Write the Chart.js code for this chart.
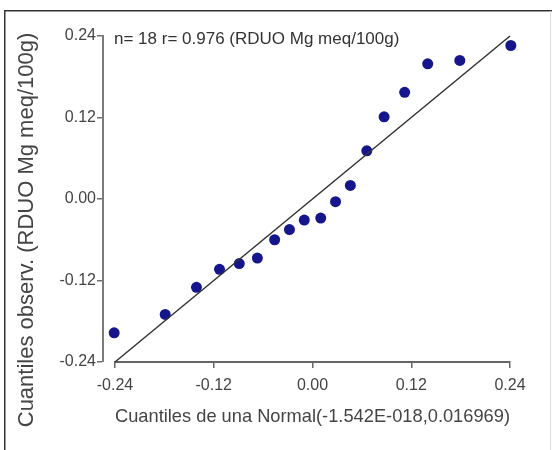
<!DOCTYPE html>
<html>
<head>
<meta charset="utf-8">
<script src="https://cdn.jsdelivr.net/npm/chart.js@4.4.1/dist/chart.umd.min.js"></script>
<style>
  html, body { margin: 0; padding: 0; background: #fff; }
  canvas { display: block; }
</style>
</head>
<body>
<canvas id="qqChart" width="552" height="450"></canvas>
<script>
// Q-Q plot: Cuantiles de una Normal vs cuantiles observados

// datos
const cuantilesNormal = [
  -0.241, -0.179, -0.141, -0.113, -0.089, -0.067, -0.046, -0.028, -0.010,
  0.010, 0.028, 0.046, 0.066, 0.087, 0.112, 0.140, 0.179, 0.241
];
const cuantilesObserv = [
  -0.197, -0.170, -0.130, -0.1035, -0.095, -0.087, -0.060, -0.045, -0.031,
  -0.028, -0.004, 0.020, 0.071, 0.121, 0.157, 0.199, 0.204, 0.226
];

// recta de referencia y = x
const rectaX = [-0.24, 0.24];
const rectaY = [-0.24, 0.24];

const ticksX = [-0.24, -0.12, 0.00, 0.12, 0.24];
const ticksY = [-0.24, -0.12, 0.00, 0.12, 0.24];

const tituloX = 'Cuantiles de una Normal(-1.542E-018,0.016969)';
const tituloY = 'Cuantiles observ. (RDUO Mg meq/100g)';
const leyenda = 'n= 18 r= 0.976 (RDUO Mg meq/100g)';

const FUENTE = "Arial, 'Liberation Sans', sans-serif";

// ---------- marco, eje Y desplazado y textos ----------
const extrasPlugin = {
  id: 'extras',
  afterDraw(chart) {
    const ctx = chart.ctx;
    const area = chart.chartArea;
    const xEje = area.left - 12;

    ctx.save();
    // marco exterior
    ctx.fillStyle = '#333';
    ctx.fillRect(4, 10, chart.width - 4, 1.5);
    ctx.fillRect(4, 10, 1.5, chart.height - 10);
    ctx.fillStyle = '#ddd';
    ctx.fillRect(550, 11, 1, chart.height - 11);

    // línea del eje Y (separada del eje X)
    ctx.fillStyle = '#7a7a7a';
    ctx.fillRect(xEje - 1, area.top - 1, 2, area.bottom - area.top + 1);
    // marcas del eje Y
    ctx.fillStyle = '#707070';
    ticksY.forEach((v) => {
      const py = Math.round(chart.scales.y.getPixelForValue(v));
      ctx.fillRect(xEje - 6, py - 1, 5, 1.5);
    });
    ctx.restore();

    // título del eje Y
    ctx.save();
    ctx.fillStyle = '#444';
    ctx.font = '22px ' + FUENTE;
    ctx.textAlign = 'center';
    ctx.textBaseline = 'middle';
    ctx.translate(27, 230);
    ctx.rotate(-Math.PI / 2);
    ctx.fillText(tituloY, 0, 0);
    ctx.restore();

    // texto n= / r=
    ctx.save();
    ctx.fillStyle = '#333';
    ctx.font = '17px ' + FUENTE;
    ctx.textAlign = 'left';
    ctx.textBaseline = 'middle';
    ctx.fillText(leyenda, area.left - 1, 39);
    ctx.restore();
  }
};

function renderQQChart() {
  const canvas = document.getElementById('qqChart');

  const puntos = cuantilesNormal.map((x, i) => ({ x: x, y: cuantilesObserv[i] }));
  const recta = rectaX.map((x, i) => ({ x: x, y: rectaY[i] }));

  new Chart(canvas, {
    type: 'scatter',
    data: {
      datasets: [
        {
          type: 'line',
          data: recta,
          borderColor: '#333',
          borderWidth: 1.5,
          pointRadius: 0,
          fill: false,
          clip: false
        },
        {
          data: puntos,
          backgroundColor: '#16168c',
          borderColor: '#16168c',
          borderWidth: 0,
          pointRadius: 5.5,
          clip: false
        }
      ]
    },
    options: {
      responsive: false,
      animation: false,
      devicePixelRatio: 1,
      layout: {
        padding: { left: 0, top: 36, right: 42, bottom: 0 }
      },
      scales: {
        x: {
          type: 'linear',
          min: -0.24,
          max: 0.24,
          afterFit: (scale) => { scale.height = 88; },
          afterBuildTicks: (scale) => { scale.ticks = ticksX.map((v) => ({ value: v })); },
          grid: {
            drawOnChartArea: false,
            drawTicks: true,
            tickLength: 6,
            color: '#666',
            lineWidth: 1.5
          },
          border: { display: true, color: '#666', width: 2 },
          ticks: {
            padding: 8,
            maxRotation: 0,
            color: '#444',
            font: { family: FUENTE, size: 16 },
            callback: (v) => Number(v).toFixed(2)
          },
          title: {
            display: true,
            text: tituloX,
            color: '#444',
            font: { family: FUENTE, size: 19 },
            padding: { top: 0, bottom: 22 }
          }
        },
        y: {
          type: 'linear',
          min: -0.24,
          max: 0.24,
          afterFit: (scale) => { scale.width = 115; },
          afterBuildTicks: (scale) => { scale.ticks = ticksY.map((v) => ({ value: v })); },
          grid: { display: false, drawTicks: false },
          border: { display: false },
          ticks: {
            padding: 19,
            color: '#444',
            font: { family: FUENTE, size: 16 },
            callback: (v) => Number(v).toFixed(2)
          }
        }
      },
      plugins: {
        legend: { display: false },
        tooltip: { enabled: false }
      }
    },
    plugins: [extrasPlugin]
  });
}

document.addEventListener('DOMContentLoaded', renderQQChart);
</script>
</body>
</html>
